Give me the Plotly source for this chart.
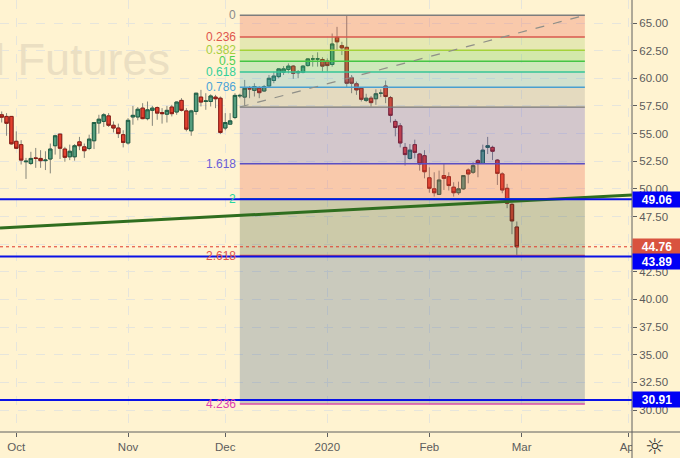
import plotly.graph_objects as go

BG = "#fff3d1"

# Daily bars: index 0 .. 106
opens = [56.7,56.55,56.55,54.3,54.0,52.45,52.3,52.8,52.75,52.55,52.7,53.9,54.95,53.6,52.9,52.9,54.25,53.8,53.65,54.35,
         55.95,56.1,56.6,55.75,55.5,54.9,54.15,56.5,56.5,57.3,56.35,57.1,57.35,56.9,56.75,57.4,56.95,58.0,57.05,55.25,
         57.0,58.3,57.9,57.9,58.3,58.2,55.5,55.85,56.45,58.4,58.3,59.05,58.9,59.1,58.85,59.3,59.8,60.15,60.55,60.8,
         61.1,60.5,60.55,61.15,61.75,61.75,61.7,61.55,61.25,63.7,62.95,62.8,60.05,59.5,59.1,58.0,58.2,58.15,58.65,59.3,
         58.25,56.1,55.7,53.75,52.75,54.0,53.15,53.0,51.0,50.0,49.5,51.2,51.1,50.15,49.65,50.0,51.7,51.5,52.55,52.3,
         53.75,53.75,52.6,51.35,50.05,48.6,46.55]
highs = [57.0,56.85,56.55,55.2,54.4,52.8,53.35,53.7,53.5,53.4,54.1,54.9,54.95,53.8,54.0,54.05,54.7,54.1,54.9,56.05,
         56.7,56.85,56.85,56.1,55.9,55.3,56.4,57.5,57.4,57.75,57.9,57.5,57.45,57.3,57.5,57.6,57.9,58.2,57.3,57.15,
         58.65,58.95,58.65,58.55,58.5,58.35,56.85,56.85,58.65,58.6,59.85,59.3,59.55,59.3,59.4,60.3,60.6,60.9,61.1,61.35,
         61.2,60.75,61.2,61.8,62.1,62.35,61.9,61.8,64.05,64.65,63.3,65.7,60.3,59.7,59.2,58.6,58.4,59.0,59.0,59.8,
         58.4,56.3,55.95,54.15,54.05,54.45,53.25,53.5,51.95,51.5,51.65,52.3,51.5,50.6,50.65,51.2,51.85,52.4,52.7,54.0,
         54.7,53.9,52.7,51.5,50.45,48.7,47.05]
lows = [56.0,54.8,54.0,53.6,52.2,50.9,52.15,51.9,51.9,51.7,51.4,53.1,52.7,52.45,52.6,52.55,53.5,52.8,53.5,53.6,
        55.0,55.6,55.6,55.1,54.6,53.75,54.0,55.8,56.2,56.3,56.2,55.7,56.25,55.9,56.0,56.55,56.7,57.0,55.2,54.8,
        56.7,57.45,57.15,57.45,57.3,54.95,55.3,55.85,56.3,58.2,57.5,58.2,58.35,58.2,58.8,59.2,59.55,60.0,60.3,60.45,
        59.95,60.0,60.45,61.05,61.05,61.05,60.6,60.6,61.05,62.55,62.1,59.2,58.65,58.5,57.9,57.85,57.45,57.6,58.3,57.75,
        56.0,54.75,53.75,52.1,52.65,52.75,51.65,50.95,49.65,49.3,49.45,49.9,49.85,49.3,49.45,49.9,50.5,51.35,51.05,52.25,
        53.15,52.6,50.35,49.6,48.25,45.9,43.89]
closes = [56.48,55.93,54.07,53.67,52.6,52.5,52.75,52.75,52.55,52.6,53.6,54.8,53.67,52.85,53.4,53.9,53.9,53.45,54.5,56.0,
          56.3,56.7,55.75,55.5,55.0,54.2,56.2,56.65,57.2,56.35,57.15,57.3,56.85,56.8,57.1,56.8,57.85,57.1,55.4,57.05,
          58.65,57.85,57.95,58.4,58.15,55.1,56.0,56.15,58.45,58.45,59.1,59.05,59.25,58.7,59.25,60.0,60.2,60.85,60.85,61.1,
          60.45,60.6,61.1,61.75,61.75,61.75,61.1,61.15,63.1,63.3,62.75,59.55,59.55,58.95,58.1,58.2,57.8,58.6,58.65,58.35,
          56.65,55.55,54.15,53.1,53.5,53.3,52.25,51.55,50.05,49.65,50.8,50.95,50.3,49.65,50.0,51.2,51.35,52.1,52.3,53.5,
          53.9,53.4,51.4,49.9,48.7,47.1,44.76]
bar_index = list(range(len(opens)))

month_ticks = [3, 26, 46, 67, 88, 107, 129]
month_labels = ["Oct", "Nov", "Dec", "2020", "Feb", "Mar", "Apr"]
price_ticks = [30 + 2.5 * n for n in range(15)]
hidden_price_labels = [45.0]

# Fibonacci retracement
fib_start = 49
fib_end = 120
fib_labels = ["0", "0.236", "0.382", "0.5", "0.618", "0.786", "1", "1.618", "2", "2.618", "4.236"]
fib_prices = [65.7, 63.74, 62.53, 61.55, 60.57, 59.18, 57.4, 52.27, 49.1, 43.97, 30.54]
fib_line_colors = ["#7d7d7d", "#d9584e", "#a5d23a", "#45c545", "#35c596", "#4a9fd0",
                   "#787878", "#5a4fc4", "#18a884", "#d9584e", "#d84fa8"]
fib_text_colors = ["#8a8a8a", "#e0554c", "#a8cf3f", "#4fd04f", "#35d09a", "#4da3d8",
                   None, "#6a60d8", "#2ad89e", "#e0554c", "#e040b0"]
fib_fills = ["rgba(233,90,70,0.27)", "rgba(130,190,60,0.20)", "rgba(80,200,60,0.25)",
             "rgba(60,200,120,0.25)", "rgba(70,170,200,0.25)", "rgba(120,120,120,0.20)",
             "rgba(70,60,190,0.24)", "rgba(233,90,70,0.27)", "rgba(50,80,50,0.25)",
             "rgba(50,85,130,0.26)"]

# Drawn lines
horizontal_levels = [49.06, 43.89, 30.91]
last_price = 44.76
trend_x = [-0.35, 129.7]
trend_y = [46.46, 49.45]
fib_trend_x = [fib_start, fib_end]
fib_trend_y = [57.4, 65.7]

body_high = [max(o, c) for o, c in zip(opens, closes)]
body_low = [min(o, c) for o, c in zip(opens, closes)]

fig = go.Figure()
wick = "#85857a"
fig.add_trace(go.Candlestick(
    x=bar_index, open=opens, high=highs, low=lows, close=closes,
    increasing=dict(line=dict(color=wick, width=1), fillcolor="rgba(0,0,0,0)"),
    decreasing=dict(line=dict(color=wick, width=1), fillcolor="rgba(0,0,0,0)"),
    hoverinfo="skip", showlegend=False))
fig.add_trace(go.Candlestick(
    x=bar_index, open=opens, high=body_high, low=body_low, close=closes,
    increasing=dict(line=dict(color="#1f5f45", width=1), fillcolor="#559d7e"),
    decreasing=dict(line=dict(color="#8c1c14", width=1), fillcolor="#e2402f"),
    hoverinfo="skip", showlegend=False))

shapes = []
for i, fill in enumerate(fib_fills):
    shapes.append(dict(type="rect", xref="x", yref="y", x0=fib_start, x1=fib_end,
                       y0=fib_prices[i + 1], y1=fib_prices[i], fillcolor=fill,
                       line=dict(width=0), layer="above"))
for p, c in zip(fib_prices, fib_line_colors):
    shapes.append(dict(type="line", xref="x", yref="y", x0=fib_start, x1=fib_end, y0=p, y1=p,
                       line=dict(color=c, width=1.5 if c != "#787878" else 1.2), layer="above"))
shapes.append(dict(type="line", xref="x", yref="y", x0=fib_trend_x[0], x1=fib_trend_x[1],
                   y0=fib_trend_y[0], y1=fib_trend_y[1],
                   line=dict(color="#8f8f88", width=1.2, dash="dash"), layer="above"))
shapes.append(dict(type="line", xref="paper", yref="y", x0=0, x1=1, y0=last_price, y1=last_price,
                   line=dict(color="#e0392b", width=1, dash="dot"), layer="above"))
shapes.append(dict(type="line", xref="x", yref="y", x0=trend_x[0], x1=trend_x[1],
                   y0=trend_y[0], y1=trend_y[1],
                   line=dict(color="#2f6e1f", width=3), layer="above"))
for lv in horizontal_levels:
    shapes.append(dict(type="line", xref="paper", yref="y", x0=0, x1=1, y0=lv, y1=lv,
                       line=dict(color="#0a12e6", width=2), layer="above"))

# corner cell, spine and bottom rule
shapes.append(dict(type="rect", xref="paper", yref="paper", x0=1, x1=48 / 632 + 1,
                   y0=-26 / 432, y1=0, fillcolor=BG, line=dict(width=0), layer="above"))
shapes.append(dict(type="line", xref="paper", yref="paper", x0=1, x1=1, y0=-26 / 432, y1=1,
                   line=dict(color="#5f5f5f", width=1), layer="above"))
shapes.append(dict(type="line", xref="paper", yref="paper", x0=0, x1=48 / 632 + 1, y0=0, y1=0,
                   line=dict(color="#5f5f5f", width=1), layer="above"))

annotations = [dict(text="l Futures", xref="paper", yref="paper", x=172 / 632, y=1 - 59 / 432,
                    xanchor="right", yanchor="middle", showarrow=False,
                    font=dict(family="Liberation Sans", size=45, color="#ebdfc2"))]
for lab, p, c in zip(fib_labels, fib_prices, fib_text_colors):
    if c is None:
        continue
    annotations.append(dict(text=lab, xref="x", yref="y", x=fib_start, y=p, xanchor="right",
                            yanchor="middle", xshift=-2, showarrow=False,
                            font=dict(family="Liberation Sans", size=12, color=c)))

box_values = [49.06, 44.76, 43.89, 30.91]
box_colors = ["#0000f5", "#d9533f", "#0000f5", "#0000f5"]
box_shift = [0, 0, -5.5, 0]
for v, c, s in zip(box_values, box_colors, box_shift):
    annotations.append(dict(text=f"<b>{v:.2f}</b>", xref="paper", yref="y", x=1, y=v, xanchor="left",
                            yanchor="middle", yshift=s, showarrow=False, width=46, height=13,
                            align="center", bgcolor=c, borderpad=1,
                            font=dict(family="Liberation Sans", size=12, color="#ffffff")))
annotations.append(dict(text="☼", xref="paper", yref="paper", x=(655 / 632), y=-14 / 432,
                        xanchor="center", yanchor="middle", showarrow=False,
                        font=dict(family="DejaVu Sans", size=22, color="#333333")))

tick_font = dict(family="Liberation Sans", size=11.5, color="#5c5c5c")
fig.update_layout(
    width=680, height=458, autosize=False,
    margin=dict(l=0, r=48, t=0, b=26, pad=0),
    paper_bgcolor=BG, plot_bgcolor=BG,
    showlegend=False, hovermode=False, boxgap=0.3, boxgroupgap=0, boxmode="overlay",
    shapes=shapes, annotations=annotations,
    xaxis=dict(range=[-0.35, 129.7], rangeslider=dict(visible=False), tickmode="array",
               tickvals=month_ticks, ticktext=month_labels, ticks="outside", ticklen=4,
               tickcolor="#5f5f5f", tickfont=tick_font, showgrid=True, gridcolor="#e6e5dc",
               griddash="dash", gridwidth=1, zeroline=False, showline=False),
    yaxis=dict(range=[28.01, 67.08], side="right", tickmode="array", tickvals=price_ticks,
               ticktext=["" if v in hidden_price_labels else f"{v:.2f}" for v in price_ticks],
               ticks="outside", ticklen=4,
               tickcolor="#5f5f5f", tickfont=tick_font, showgrid=True, gridcolor="#e6e5dc",
               griddash="dash", gridwidth=1, zeroline=False, showline=False),
)

fig.write_html("out.html", config=dict(displayModeBar=False),
               post_script="document.body.style.margin='0';document.body.style.overflow='hidden';")
